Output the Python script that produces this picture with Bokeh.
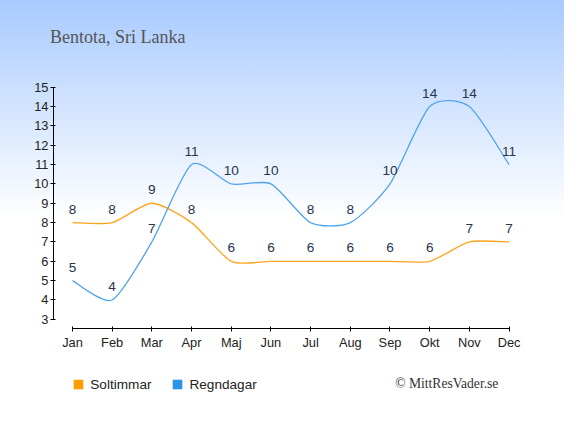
from bokeh.plotting import figure
from bokeh.models import (Range1d, FixedTicker, Label, Legend, LegendItem,
                          ColumnDataSource, InlineStyleSheet)
from bokeh.core.properties import value
from bokeh.embed import file_html
from bokeh.resources import INLINE

months = ["Jan", "Feb", "Mar", "Apr", "Maj", "Jun", "Jul", "Aug", "Sep", "Okt", "Nov", "Dec"]
sun_hours = [8, 8, 9, 8, 6, 6, 6, 6, 6, 6, 7, 7]
rain_days = [5, 4, 7, 11, 10, 10, 8, 8, 10, 14, 14, 11]
y_ticks = list(range(3, 16))
title_text = "Bentota, Sri Lanka"
series_names = ["Soltimmar", "Regndagar"]
credit = "\u00a9 MittResVader.se"

SUN_LINE = "#ffa41c"
RAIN_LINE = "#4ea3ee"
SUN_BOX = "#ff9c00"
RAIN_BOX = "#2b93e6"
LABEL_COLOR = "#26344f"

xs = list(range(len(months)))
NAN = float("nan")

W, H = 564, 419
p = figure(width=W, height=H, output_backend="svg", toolbar_location=None,
           x_range=Range1d(-1.813, 12.397), y_range=Range1d(-2.178, 19.481),
           min_border_left=0, min_border_right=0, min_border_top=0,
           min_border_bottom=0)
p.background_fill_alpha = 0
p.border_fill_alpha = 0
p.outline_line_color = None
p.grid.visible = False
p.stylesheets = [InlineStyleSheet(css=":host { background: linear-gradient(to bottom, #a8caff 0%, #ffffff 52%, #ffffff 100%); }")]


def bezier_source(xv, yv, t=0.115):
    n = len(xv)
    d = dict(x0=[], y0=[], x1=[], y1=[], cx0=[], cy0=[], cx1=[], cy1=[])
    for i in range(n - 1):
        pm = max(i - 1, 0)
        pn = min(i + 2, n - 1)
        d["x0"].append(xv[i]); d["y0"].append(yv[i])
        d["x1"].append(xv[i + 1]); d["y1"].append(yv[i + 1])
        d["cx0"].append(xv[i] + (xv[i + 1] - xv[pm]) * t)
        d["cy0"].append(yv[i] + (yv[i + 1] - yv[pm]) * t)
        d["cx1"].append(xv[i + 1] - (xv[pn] - xv[i]) * t)
        d["cy1"].append(yv[i + 1] - (yv[pn] - yv[i]) * t)
    return ColumnDataSource(d)


p.bezier(x0="x0", y0="y0", x1="x1", y1="y1", cx0="cx0", cy0="cy0", cx1="cx1", cy1="cy1",
         source=bezier_source(xs, sun_hours), line_color=SUN_LINE, line_width=1.3)
p.bezier(x0="x0", y0="y0", x1="x1", y1="y1", cx0="cx0", cy0="cy0", cx1="cx1", cy1="cy1",
         source=bezier_source(xs, rain_days), line_color=RAIN_LINE, line_width=1.3)

for vals in (sun_hours, rain_days):
    p.text(x=xs, y=vals, text=[str(v) for v in vals], text_align="center",
           text_baseline="middle", y_offset=-13.5, text_color=LABEL_COLOR,
           text_font=value("Liberation Sans"), text_font_size="13.6px")

# axes (drawn inside the frame at fixed positions)
for ax in (p.xaxis[0], p.yaxis[0]):
    ax.axis_line_color = "#000000"
    ax.major_tick_line_color = "#000000"
    ax.major_tick_in = 2
    ax.major_tick_out = 3
    ax.minor_tick_line_color = None
    ax.major_label_text_font = "Liberation Sans"
    ax.major_label_text_font_size = "12.8px"
    ax.major_label_text_color = "#222222"

p.xaxis[0].bounds = (0, 11)
p.xaxis[0].fixed_location = 2.502
p.xaxis[0].ticker = FixedTicker(ticks=xs)
p.xaxis[0].major_label_overrides = {i: m for i, m in enumerate(months)}
p.xaxis[0].major_label_standoff = 3
p.yaxis[0].bounds = (3, 15)
p.yaxis[0].fixed_location = -0.478
p.yaxis[0].ticker = FixedTicker(ticks=y_ticks)
p.yaxis[0].major_label_standoff = 2

# title and credit
p.add_layout(Label(x=49.6, y=H - 36.9, x_units="screen", y_units="screen", text=title_text,
                   text_font="Liberation Serif", text_font_size="18px",
                   text_color="#555555", text_baseline="alphabetic"))
p.add_layout(Label(x=497.9, y=H - 383.1, x_units="screen", y_units="screen", text=credit,
                   text_font="Liberation Serif", text_font_size="13.6px",
                   text_color="#333333", text_baseline="middle", text_align="right"))

# legend (legend-only renderers carry no visible points)
r_sun = p.scatter(x=[NAN], y=[NAN], marker="square", fill_color=SUN_BOX, line_color=None)
r_rain = p.scatter(x=[NAN], y=[NAN], marker="square", fill_color=RAIN_BOX, line_color=None)
legend = Legend(items=[LegendItem(label=series_names[0], renderers=[r_sun]),
                       LegendItem(label=series_names[1], renderers=[r_rain])],
                orientation="horizontal", location=(66.3, 23),
                glyph_width=24, glyph_height=24, label_standoff=0, spacing=14,
                label_text_font="Liberation Sans", label_text_font_size="13.6px",
                label_text_color="#222222",
                padding=0, margin=0, border_line_alpha=0, background_fill_alpha=0)
p.add_layout(legend, "center")

open("out.html", "w").write(file_html(p, INLINE))
